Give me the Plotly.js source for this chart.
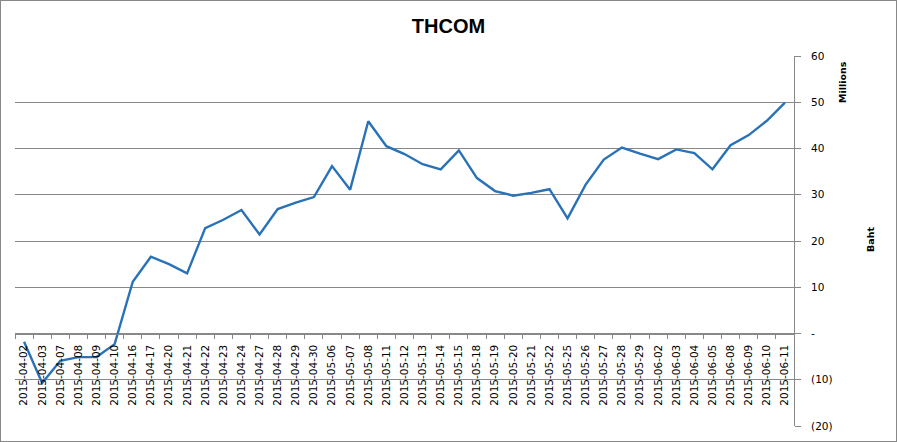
<!DOCTYPE html>
<html>
<head>
<meta charset="utf-8">
<script src="https://cdn.plot.ly/plotly-3.0.1.min.js"></script>
<style>
  body { margin: 0; padding: 0; background: #fff; }
  #wrap { position: relative; width: 897px; height: 442px; }
  #chart { width: 897px; height: 442px; }
  #frame { position: absolute; left: 0; top: 0; width: 897px; height: 442px; box-sizing: border-box; border: 1px solid #888; pointer-events: none; }
</style>
</head>
<body>
<div id="wrap"><div id="chart"></div><div id="frame"></div></div>
<script>
const dates = [
  "2015-04-02","2015-04-03","2015-04-07","2015-04-08","2015-04-09","2015-04-10","2015-04-16","2015-04-17",
  "2015-04-20","2015-04-21","2015-04-22","2015-04-23","2015-04-24","2015-04-27","2015-04-28","2015-04-29",
  "2015-04-30","2015-05-06","2015-05-07","2015-05-08","2015-05-11","2015-05-12","2015-05-13","2015-05-14",
  "2015-05-15","2015-05-18","2015-05-19","2015-05-20","2015-05-21","2015-05-22","2015-05-25","2015-05-26",
  "2015-05-27","2015-05-28","2015-05-29","2015-06-02","2015-06-03","2015-06-04","2015-06-05","2015-06-08",
  "2015-06-09","2015-06-10","2015-06-11"
];
// Values in millions of Baht
const valuesMillions = [
  -1.8, -10.7, -5.9, -5.1, -5.1, -2.3, 11.2, 16.6,
  15.0, 13.0, 22.8, 24.6, 26.7, 21.4, 26.9, 28.3,
  29.5, 36.2, 31.1, 45.9, 40.5, 38.8, 36.6, 35.5,
  39.6, 33.6, 30.8, 29.8, 30.4, 31.2, 24.9, 32.2,
  37.6, 40.2, 38.9, 37.7, 39.8, 39.0, 35.5, 40.7,
  42.9, 46.0, 49.9
];
const yTickVals = [-20, -10, 0, 10, 20, 30, 40, 50, 60];
const yTickText = ["(20)", "(10)", "-", "10", "20", "30", "40", "50", "60"];
const chartTitle = "THCOM";
const unitsLabel = "Millions";
const axisLabel = "Baht";

const trace = {
  x: dates,
  y: valuesMillions,
  type: "scatter",
  mode: "lines",
  line: { color: "#2a72b8", width: 2.4 },
  hoverinfo: "x+y"
};

const layout = {
  width: 897,
  height: 442,
  margin: { l: 15, r: 103, t: 56, b: 16 },
  paper_bgcolor: "#fff",
  plot_bgcolor: "#fff",
  showlegend: false,
  title: {
    text: "<b>" + chartTitle + "</b>",
    font: { family: "Liberation Sans, Arial, sans-serif", size: 20, color: "#000" },
    xref: "container", x: 0.5, xanchor: "center",
    yref: "container", y: 1 - 26 / 442, yanchor: "middle"
  },
  xaxis: {
    type: "category",
    range: [-0.5, dates.length - 0.5],
    anchor: "free",
    position: 0.25,
    showgrid: false,
    showline: true,
    linecolor: "#888",
    linewidth: 1,
    ticks: "outside",
    tickson: "boundaries",
    ticklen: 4,
    tickcolor: "#888",
    tickangle: -90,
    ticklabelstandoff: 6,
    tickfont: { family: "DejaVu Sans, Verdana, sans-serif", size: 10.5, color: "#000" },
    zeroline: false
  },
  yaxis: {
    side: "right",
    range: [-20, 60],
    tickvals: yTickVals,
    ticktext: yTickText,
    showgrid: true,
    gridcolor: "#888",
    gridwidth: 1,
    showline: true,
    linecolor: "#888",
    linewidth: 1,
    ticks: "outside",
    ticklen: 6,
    tickcolor: "#888",
    ticklabelstandoff: 8,
    tickfont: { family: "DejaVu Sans, Verdana, sans-serif", size: 10.5, color: "#000" },
    zeroline: false
  },
  annotations: [
    {
      text: "<b>" + unitsLabel + "</b>",
      xref: "paper", yref: "paper",
      x: (843 - 15) / 779, y: (426 - 82) / 370,
      xanchor: "center", yanchor: "middle",
      textangle: -90, showarrow: false,
      font: { family: "DejaVu Sans, Verdana, sans-serif", size: 9.5, color: "#000" }
    },
    {
      text: "<b>" + axisLabel + "</b>",
      xref: "paper", yref: "paper",
      x: (870 - 15) / 779, y: (426 - 240) / 370,
      xanchor: "center", yanchor: "middle",
      textangle: -90, showarrow: false,
      font: { family: "DejaVu Sans, Verdana, sans-serif", size: 9.5, color: "#000" }
    }
  ]
};

Plotly.newPlot("chart", [trace], layout, { displayModeBar: false, staticPlot: true });
</script>
</body>
</html>
